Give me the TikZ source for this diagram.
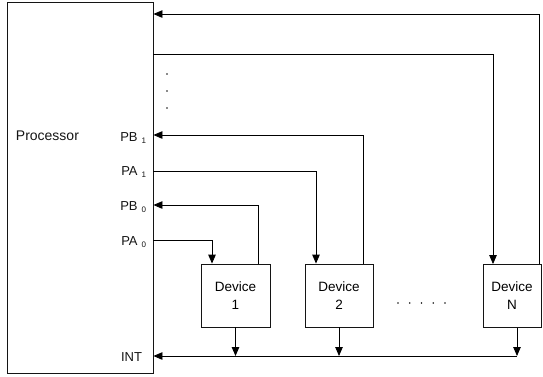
\documentclass[tikz,border=0pt]{standalone}
\usepackage{fontspec}
\setmainfont{Liberation Sans}
\usetikzlibrary{positioning, arrows.meta, calc}
\definecolor{figink}{HTML}{141414}
\newcommand{\portsub}[1]{\hspace{4pt}\raisebox{-2pt}{\fontsize{8}{9}\selectfont #1}}

\begin{document}
\begin{tikzpicture}[
  x=1pt, y=-1pt,
  line width=0.85pt, line join=miter,
  >={Triangle[length=9pt, width=7.5pt]},
  proc/.style = {draw=figink, line width=0.85pt, minimum width=146pt,
                 minimum height=371pt, inner sep=0pt, anchor=center},
  dev/.style  = {draw=figink, line width=0.85pt, minimum width=69pt,
                 minimum height=63pt, inner sep=0pt, anchor=center,
                 align=center, font=\fontsize{13.5}{18}\selectfont},
  port/.style = {font=\fontsize{13}{15}\selectfont, color=figink,
                 inner sep=0pt, anchor=base east},
  lbl/.style  = {font=\fontsize{14}{16}\selectfont, color=figink,
                 inner sep=0pt},
  dot/.style  = {fill=figink}
]
\useasboundingbox (0,0) rectangle (543,376);

% 处理器
\node[proc] (p) at (80,187.5) {};
\node[lbl, anchor=base west] (ptxt) at (15.5,140) {Processor};

% 端口标签
\node[port] (lb1) at (146.5,141)   {PB\portsub{1}};
\node[port] (la1) at (146.5,175)   {PA\portsub{1}};
\node[port] (lb0) at (146.5,210.5) {PB\portsub{0}};
\node[port] (la0) at (146.5,245.5) {PA\portsub{0}};
\node[port] (lint) at (142.5,361.5) {INT};

% 处理器右边上的端口点
\foreach \nm/\y in {t/14, n/54, b1/135, a1/171, b0/205, a0/240, int/356}
  \coordinate (\nm) at (p.east |- 0,\y);

% 设备
\node[dev] (dev1) at (235.5,295.5) {Device\\1};
\node[dev, minimum width=68pt] (dev2) at (339,295.5) {Device\\2};
\node[dev, minimum width=58pt] (devN) at (512,296) {Device\\N};

% 设备 N 的两条线
\draw[->] ([xshift=27pt]devN.north) |- (t);
\draw[->] (n) -| ([xshift=-19pt]devN.north);

% 设备 2
\draw[->] ([xshift=24pt]dev2.north) |- (b1);
\draw[->] (a1) -| ([xshift=-23pt]dev2.north);

% 设备 1
\draw[->] ([xshift=22.5pt]dev1.north) |- (b0);
\draw[->] (a0) -| ([xshift=-23.5pt]dev1.north);

% INT 总线
\coordinate (o1) at (dev1.south);
\coordinate (o2) at (dev2.south);
\coordinate (oN) at ([xshift=5pt]devN.south);
\draw[->] (oN |- int) -- (int);
\foreach \o in {o1, o2, oN}
  \draw[->] (\o) -- (\o |- int);

% 省略点
\foreach \y in {74, 91, 108}
  \fill[dot] (167,\y) circle (0.8);
\foreach \i in {0,...,4}
  \fill[dot] (398+11.75*\i,303) circle (0.8);

\end{tikzpicture}
\end{document}
